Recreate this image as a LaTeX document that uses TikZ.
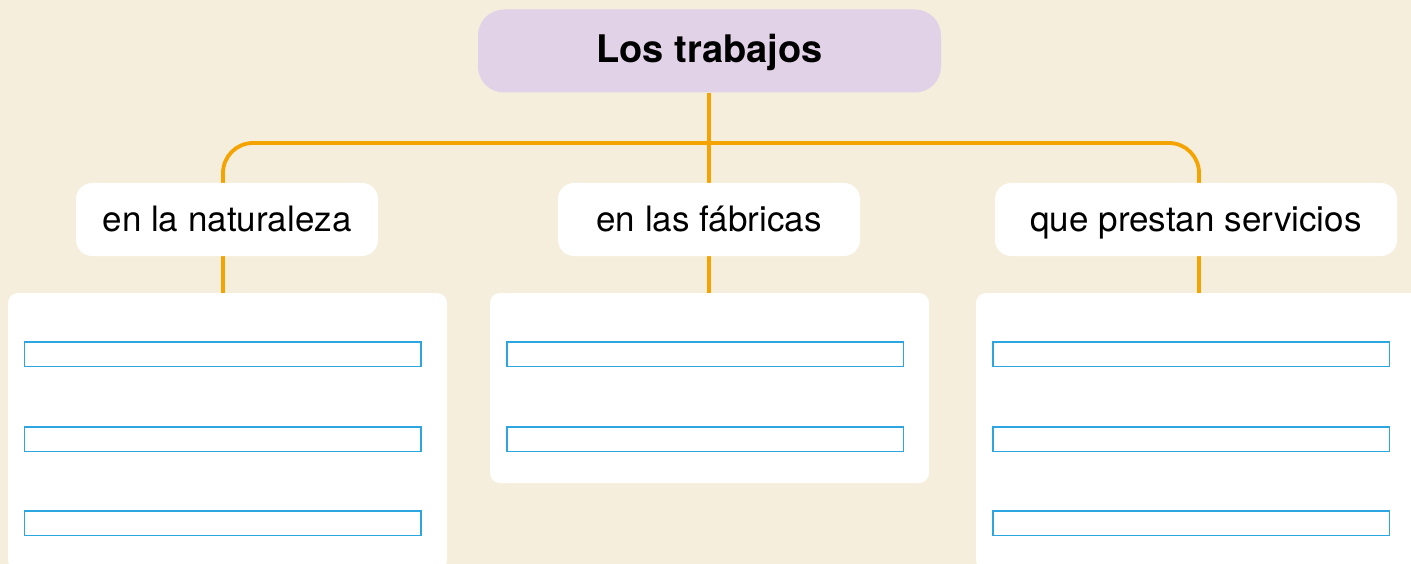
\documentclass[tikz,border=0pt]{standalone}
\usepackage{fontspec}
\setmainfont{TeX Gyre Heros}
\definecolor{bgc}{HTML}{F5EEDC}
\definecolor{titlec}{HTML}{E1D2E7}
\definecolor{linec}{HTML}{F5A300}
\definecolor{fieldc}{HTML}{2BA6E0}
\pgfdeclarelayer{bglayer}
\pgfdeclarelayer{lineslayer}
\pgfsetlayers{bglayer,lineslayer,main}
\begin{document}
\begin{tikzpicture}[x=1pt,y=-1pt,
  titlebox/.style={fill=titlec, rounded corners=26pt, minimum width=463pt, minimum height=83pt, inner sep=0pt, text height=30pt, text depth=6pt, font=\fontsize{38}{40}\selectfont\bfseries},
  branchbox/.style={fill=white, rounded corners=16pt, minimum height=73pt, inner sep=0pt, text height=30pt, text depth=6pt, font=\fontsize{35}{40}\selectfont},
  panel/.style={fill=white, rounded corners=10pt},
  field/.style={draw=fieldc, line width=1.2pt, fill=white},
  conn/.style={draw=linec, line width=3.8pt}]
\useasboundingbox (0,0) rectangle (1411,564);
\begin{pgfonlayer}{bglayer}
\fill[bgc] (0,0) rectangle (1411,564);
% panels
\path[panel] (8,293) rectangle (447,570);
\path[panel] (490,293) rectangle (929,483);
\path[panel] (976,293) rectangle (1420,570);
\end{pgfonlayer}
\coordinate (pl) at (227.5,293);
\coordinate (pm) at (709.5,293);
\coordinate (pr) at (1193.5,293);

% fields
\foreach \y in {342,427,511}{
  \draw[field] (24.5,\y) rectangle (421,\y+24.5);
  \draw[field] (993,\y) rectangle (1389.5,\y+24.5);
}
\foreach \y in {342,427}{
  \draw[field] (507,\y) rectangle (903.5,\y+24.5);
}

% nodes
\node[titlebox] (title) at (709.5,51) {Los trabajos};
\node[branchbox, minimum width=302pt] (nat) at (227,219.5) {en la naturaleza};
\node[branchbox, minimum width=302pt] (fab) at (709,219.5) {en las fábricas};
\node[branchbox, minimum width=402pt] (serv) at (1196,219.5) {que prestan servicios};

% connectors
\coordinate (xl) at (223,143);
\coordinate (xm) at (709,143);
\coordinate (xr) at (1199,143);
\begin{pgfonlayer}{lineslayer}
\draw[conn] (title.south -| xm) -- (fab.north -| xm);
\draw[conn, rounded corners=30pt] (nat.north -| xl) -- (xl) -- (xr) -- (serv.north -| xr);
\draw[conn] (nat.south -| xl) -- (pl -| xl);
\draw[conn] (fab.south -| xm) -- (pm -| xm);
\draw[conn] (serv.south -| xr) -- (pr -| xr);
\end{pgfonlayer}
\end{tikzpicture}
\end{document}
